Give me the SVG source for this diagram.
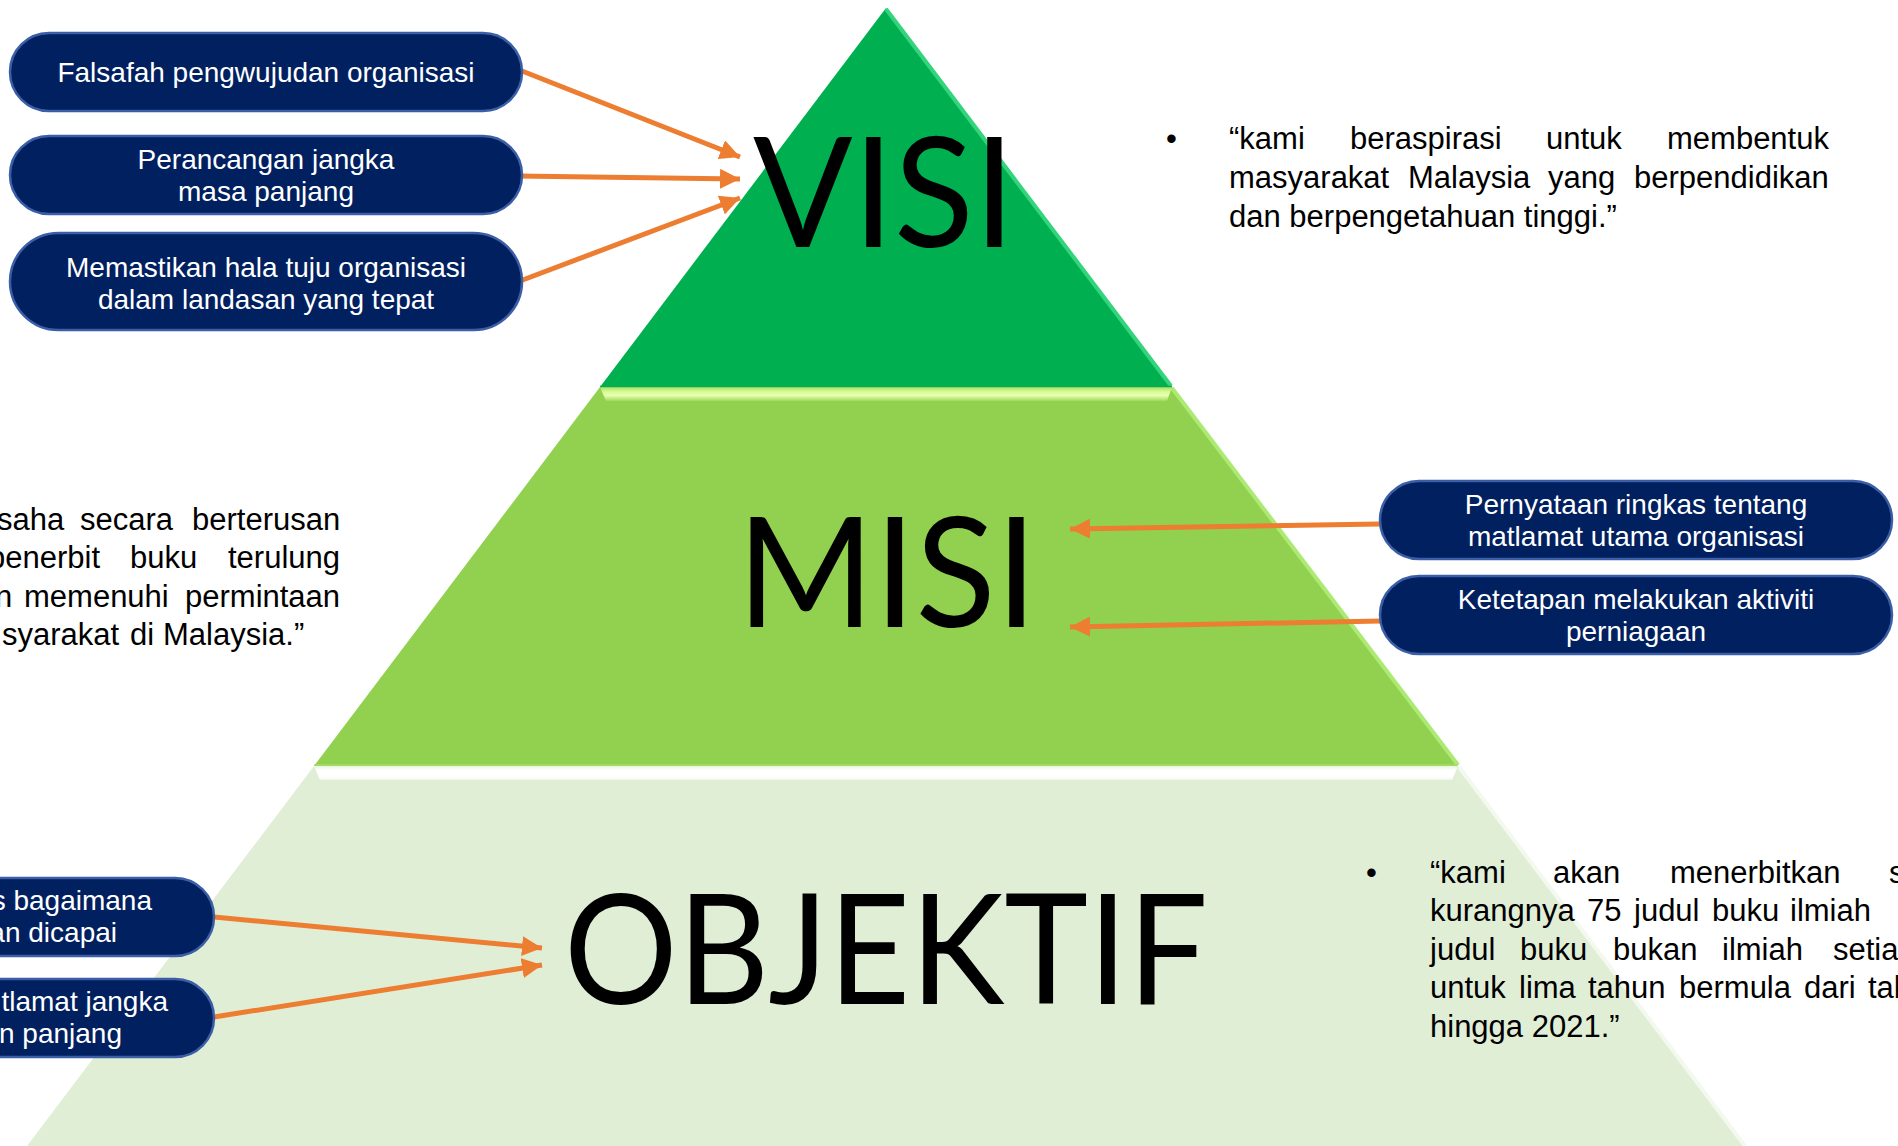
<svg xmlns="http://www.w3.org/2000/svg" width="1898" height="1146" viewBox="0 0 1898 1146">
<defs>
<style>
.pill{fill:#002060;stroke:#3b5ea6;stroke-width:2.5}
.pt{font-family:"Liberation Sans",Arial,sans-serif;font-size:28px;fill:#ffffff;text-anchor:middle}
.pte{font-family:"Liberation Sans",Arial,sans-serif;font-size:28px;fill:#ffffff;text-anchor:end}
.q{font-family:"Liberation Sans",Arial,sans-serif;font-size:31px;fill:#000000}
.big{font-family:Lato,"Open Sans",sans-serif;font-size:153px;fill:#000000}
.arr{stroke:#ED7D31;stroke-width:5;fill:none;marker-end:url(#ah)}
</style>
<marker id="ah" markerUnits="userSpaceOnUse" markerWidth="20" markerHeight="20" refX="18" refY="9" orient="auto" viewBox="0 0 18 18"><path d="M0,0 L18,9 L0,18 z" fill="#ED7D31"/></marker>
<linearGradient id="bev2" x1="0" y1="0" x2="0" y2="1">
<stop offset="0" stop-color="#a8e262"/><stop offset="0.35" stop-color="#d9fc96"/><stop offset="0.6" stop-color="#e9ffb2"/><stop offset="1" stop-color="#a2da5c"/>
</linearGradient>
<linearGradient id="bev3" x1="0" y1="0" x2="0" y2="1">
<stop offset="0" stop-color="#e8f5dc"/><stop offset="0.3" stop-color="#ffffff"/><stop offset="0.8" stop-color="#ffffff"/><stop offset="1" stop-color="#eef7e6"/>
</linearGradient>
</defs>
<rect x="0" y="0" width="1898" height="1146" fill="#ffffff"/>

<g id="pyramid">
<polygon id="tier-objektif" points="314,766 1458,766 1745,1146 27,1146" fill="#E1EED6"/>
<polygon points="314,766 1458,766 1452,780 320,780" fill="url(#bev3)"/>
<line x1="1459" y1="767" x2="1745" y2="1146" stroke="#f3f9ee" stroke-width="4"/>
<polygon id="tier-misi" points="600,387 1172,387 1458,766 314,766" fill="#92D050"/>
<polygon points="600,387 1172,387 1167,401 606,401" fill="url(#bev2)"/>
<line x1="1172" y1="388" x2="1458" y2="765" stroke="#acea74" stroke-width="4"/>
<line x1="314" y1="765" x2="1458" y2="765" stroke="#a6dc6a" stroke-width="1.5"/>
<polygon id="tier-visi" points="886,8 1172,387 600,387" fill="#00B050"/>
<line x1="886" y1="9" x2="1171" y2="386" stroke="#33d47c" stroke-width="4"/>
<line x1="600" y1="386.5" x2="1172" y2="386.5" stroke="#10a84e" stroke-width="1.5"/>
<text class="big" x="753" y="247" textLength="262" lengthAdjust="spacingAndGlyphs">VISI</text>
<text class="big" x="737" y="627" textLength="300" lengthAdjust="spacingAndGlyphs">MISI</text>
<text class="big" x="564" y="1004" textLength="644" lengthAdjust="spacingAndGlyphs">OBJEKTIF</text>
</g>

<g id="connectors">
<line class="arr" x1="522" y1="71" x2="740" y2="157"/>
<line class="arr" x1="517" y1="176" x2="740" y2="179"/>
<line class="arr" x1="520" y1="281" x2="740" y2="198"/>
<line class="arr" x1="1380" y1="524" x2="1070" y2="529"/>
<line class="arr" x1="1380" y1="621" x2="1070" y2="627"/>
<line class="arr" x1="214" y1="917" x2="542" y2="948"/>
<line class="arr" x1="214" y1="1017" x2="542" y2="965"/>
</g>

<g id="node-falsafah">
<rect class="pill" x="10" y="33" width="512" height="78" rx="39"/>
<text class="pt" x="266" y="82">Falsafah pengwujudan organisasi</text>
</g>
<g id="node-perancangan">
<rect class="pill" x="10" y="136" width="512" height="78" rx="39"/>
<text class="pt" x="266" y="169">Perancangan jangka</text>
<text class="pt" x="266" y="201">masa panjang</text>
</g>
<g id="node-memastikan">
<rect class="pill" x="10" y="233" width="512" height="97" rx="48.5"/>
<text class="pt" x="266" y="277">Memastikan hala tuju organisasi</text>
<text class="pt" x="266" y="309">dalam landasan yang tepat</text>
</g>
<g id="node-pernyataan">
<rect class="pill" x="1380" y="481" width="512" height="78" rx="39"/>
<text class="pt" x="1636" y="514">Pernyataan ringkas tentang</text>
<text class="pt" x="1636" y="546">matlamat utama organisasi</text>
</g>
<g id="node-ketetapan">
<rect class="pill" x="1380" y="576" width="512" height="78" rx="39"/>
<text class="pt" x="1636" y="609">Ketetapan melakukan aktiviti</text>
<text class="pt" x="1636" y="641">perniagaan</text>
</g>
<g id="node-bagaimana">
<rect class="pill" x="-298" y="878" width="512" height="78" rx="39"/>
<text class="pte" x="152" y="910">s bagaimana</text>
<text class="pte" x="117" y="942">an dicapai</text>
</g>
<g id="node-matlamat">
<rect class="pill" x="-298" y="979" width="512" height="78" rx="39"/>
<text class="pte" x="168" y="1011">tlamat jangka</text>
<text class="pte" x="122" y="1043">n panjang</text>
</g>

<g id="quote-visi">
<text class="q" x="1166" y="149">•</text>
<text class="q" y="149"><tspan x="1229">“kami</tspan><tspan x="1350">beraspirasi</tspan><tspan x="1546">untuk</tspan><tspan x="1667">membentuk</tspan></text>
<text class="q" y="188"><tspan x="1229">masyarakat</tspan><tspan x="1408">Malaysia</tspan><tspan x="1548">yang</tspan><tspan x="1634">berpendidikan</tspan></text>
<text class="q" x="1229" y="227">dan berpengetahuan tinggi.”</text>
</g>

<g id="quote-misi">
<text class="q" y="530"><tspan x="-3">saha</tspan><tspan x="80">secara</tspan><tspan x="192">berterusan</tspan></text>
<text class="q" y="568"><tspan x="-12">penerbit</tspan><tspan x="130">buku</tspan><tspan x="228">terulung</tspan></text>
<text class="q" y="607"><tspan x="-5">n</tspan><tspan x="24">memenuhi</tspan><tspan x="185">permintaan</tspan></text>
<text class="q" y="645"><tspan x="2">syarakat</tspan><tspan x="130">di</tspan><tspan x="163">Malaysia.”</tspan></text>
</g>

<g id="quote-objektif">
<text class="q" x="1366" y="883">•</text>
<text class="q" y="883"><tspan x="1430">“kami</tspan><tspan x="1553">akan</tspan><tspan x="1670">menerbitkan</tspan><tspan x="1889">s</tspan></text>
<text class="q" y="921"><tspan x="1430">kurangnya</tspan><tspan x="1587">75</tspan><tspan x="1634">judul</tspan><tspan x="1712">buku</tspan><tspan x="1790">ilmiah</tspan></text>
<text class="q" y="960"><tspan x="1430">judul</tspan><tspan x="1520">buku</tspan><tspan x="1613">bukan</tspan><tspan x="1722">ilmiah</tspan><tspan x="1833">setia</tspan></text>
<text class="q" y="998"><tspan x="1430">untuk</tspan><tspan x="1519">lima</tspan><tspan x="1588">tahun</tspan><tspan x="1679">bermula</tspan><tspan x="1804">dari</tspan><tspan x="1868">tah</tspan></text>
<text class="q" x="1430" y="1037">hingga 2021.”</text>
</g>
</svg>
